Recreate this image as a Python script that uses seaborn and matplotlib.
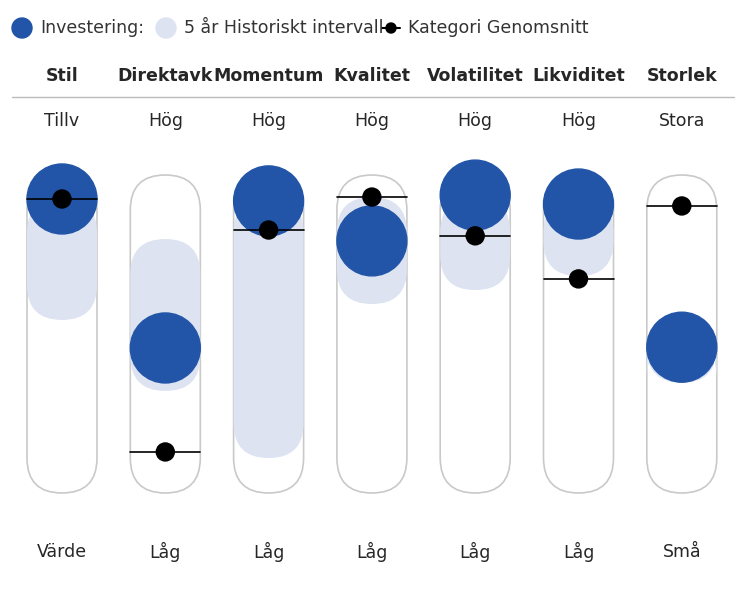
"""Style box chart: investment vs 5-year range vs category average."""

import matplotlib.pyplot as plt
import seaborn as sns
from matplotlib.patches import Circle, FancyBboxPatch

factors = ["Stil", "Direktavk", "Momentum", "Kvalitet", "Volatilitet", "Likviditet", "Storlek"]
top_labels = ["Tillv", "Hög", "Hög", "Hög", "Hög", "Hög", "Stora"]
bottom_labels = ["Värde", "Låg", "Låg", "Låg", "Låg", "Låg", "Små"]
# scores on 0 (bottom) .. 100 (top)
investment = [84.8, 46.4, 84.3, 74.0, 85.8, 83.5, 46.6]
category_avg = [84.8, 19.6, 76.8, 85.3, 75.3, 64.2, 83.0]
range_low = [44.6, 26.3, 9.0, 48.7, 52.3, 55.9, 28.4]
range_high = [94.1, 83.5, 94.3, 94.3, 94.3, 94.3, 56.7]

BLUE = "#2255a8"
BAND = "#dde3f1"
EDGE = "#c9c9c9"

sns.set_theme(style="white")
plt.rcParams["font.family"] = ["Liberation Sans Narrow", "DejaVu Sans"]

fig = plt.figure(figsize=(7.5, 5.94), dpi=100)
ax = fig.add_axes([0, 0, 1, 1])
ax.set_xlim(0, 750)
ax.set_ylim(594, 0)
ax.set_aspect("equal")
ax.axis("off")

top, bottom, half = 140, 528, 35
xs = [62 + i * 103.3 for i in range(len(factors))]


def to_y(v):
    return bottom - v / 100 * (bottom - top)


def pill(x, y0, y1, **kw):
    ax.add_patch(FancyBboxPatch((x - half, y0 + half), 2 * half, max(y1 - y0 - 2 * half, 0.01),
                                boxstyle=f"round,pad=0,rounding_size={half}",
                                mutation_aspect=1, **kw))


for i, x in enumerate(xs):
    pill(x, top, bottom, facecolor="white", edgecolor=EDGE, lw=1.2, zorder=1)
    pill(x, to_y(range_high[i]), to_y(range_low[i]), facecolor=BAND, edgecolor="none", zorder=2)
    ax.add_patch(Circle((x, to_y(investment[i])), half, color=BLUE, zorder=3))
    cy = to_y(category_avg[i])
    ax.plot([x - half, x + half], [cy, cy], color="black", lw=1.2, zorder=4)
    ax.add_patch(Circle((x, cy), 9, color="black", zorder=5))
    ax.text(x, 76, factors[i], ha="center", va="center", fontsize=12.5, fontweight="bold")
    ax.text(x, 121, top_labels[i], ha="center", va="center", fontsize=12.5)
    ax.text(x, 552, bottom_labels[i], ha="center", va="center", fontsize=12.5)

ax.plot([12, 734], [97, 97], color="#bbbbbb", lw=1)

# legend
ax.add_patch(Circle((22, 28), 10, color=BLUE))
ax.text(40, 28, "Investering:", va="center", fontsize=12.5, color="#333333")
ax.add_patch(Circle((166, 28), 10, color=BAND))
ax.text(184, 28, "5 år Historiskt intervall", va="center", fontsize=12.5, color="#333333")
ax.plot([382, 400], [28, 28], color="black", lw=1.5)
ax.add_patch(Circle((391, 28), 5, color="black"))
ax.text(408, 28, "Kategori Genomsnitt", va="center", fontsize=12.5, color="#333333")

fig.savefig("out.png", dpi=100)
